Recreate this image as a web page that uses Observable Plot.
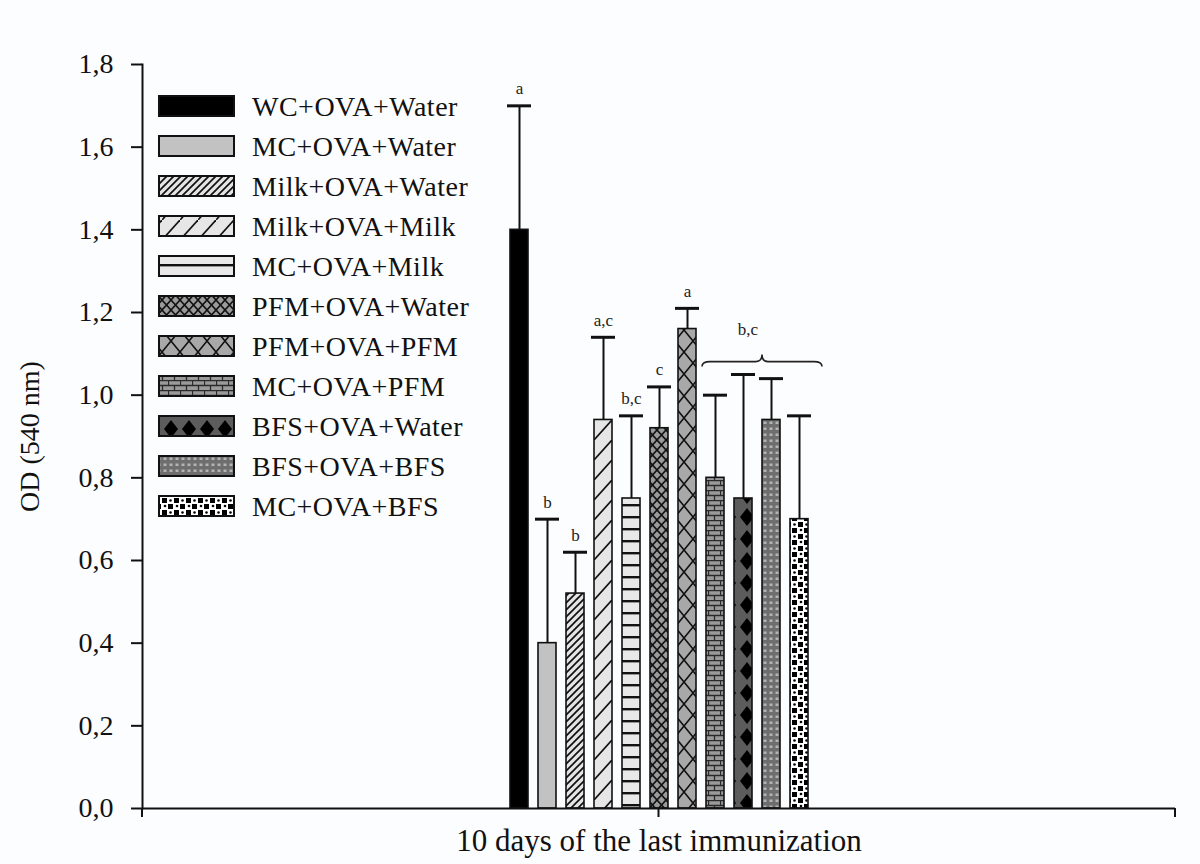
<!DOCTYPE html>
<html><head><meta charset="utf-8">
<script src="https://cdn.jsdelivr.net/npm/d3@7"></script>
<script src="https://cdn.jsdelivr.net/npm/@observablehq/plot@0.6"></script>
<style>
html,body{margin:0;padding:0;background:#fcfdfe;}
#chart svg{font-family:"Liberation Serif","Times New Roman",serif;display:block;}
</style></head><body><div id="chart"></div>
<script>
// ---- data ----
const treatments = ["WC+OVA+Water","MC+OVA+Water","Milk+OVA+Water","Milk+OVA+Milk","MC+OVA+Milk","PFM+OVA+Water","PFM+OVA+PFM","MC+OVA+PFM","BFS+OVA+Water","BFS+OVA+BFS","MC+OVA+BFS"];
const means   = [1.40, 0.40, 0.52, 0.94, 0.75, 0.92, 1.16, 0.80, 0.75, 0.94, 0.70];
const errTops = [1.70, 0.70, 0.62, 1.14, 0.95, 1.02, 1.21, 1.00, 1.05, 1.04, 0.95];
const letters = ["a", "b", "b", "a,c", "b,c", "c", "a", "", "", "", ""];
const groupLetter = "b,c";
const groupMembers = ["MC+OVA+PFM","BFS+OVA+Water","BFS+OVA+BFS","MC+OVA+BFS"];
const yTicks = [0, 0.2, 0.4, 0.6, 0.8, 1.0, 1.2, 1.4, 1.6, 1.8];
const xLabel = "10 days of the last immunization";
const yLabel = "OD (540 nm)";
const fills = ["#000000","#c2c2c2","url(#p3)","url(#p4)","url(#p5)","url(#p6)","url(#p7)","url(#p8)","url(#p9)","url(#p10)","url(#p11)"];

const data = treatments.map((t, i) => ({t, mean: means[i], err: errTops[i], letter: letters[i]}));

// ---- layout ----
const W = 1200, H = 864, mL = 142, mR = 25, mT = 64, mB = 56;
const step = 28.2;
const cx = mL + (W - mL - mR) / 2;
const ink = "#111";

const plot = Plot.plot({
  width: W, height: H,
  marginLeft: mL, marginRight: mR, marginTop: mT, marginBottom: mB,
  style: {background: "transparent", fontFamily: "Liberation Serif, Times New Roman, serif", color: ink, overflow: "visible"},
  x: {type: "band", domain: treatments, range: [cx - step * 11 / 2, cx + step * 11 / 2], paddingInner: 0.36, paddingOuter: 0.18, axis: null},
  y: {domain: [0, 1.8], axis: null},
  color: {domain: treatments, range: fills},
  marks: [
    Plot.ruleX(data, {x: "t", y1: "mean", y2: "err", stroke: ink, strokeWidth: 2}),
    Plot.tickY(data, {x: "t", y: "err", stroke: ink, strokeWidth: 3, insetLeft: -3, insetRight: -3}),
    Plot.barY(data, {x: "t", y: "mean", fill: "t", stroke: ink, strokeWidth: 1.6}),
    Plot.text(data.filter(d => d.letter), {x: "t", y: "err", text: "letter", dy: -17, fontSize: 17, fill: "#222"}),
    Plot.axisY({ticks: yTicks, tickFormat: d => d.toFixed(1).replace(".", ","), tickSize: 11, tickPadding: 18, fontSize: 28, label: null, stroke: ink, strokeWidth: 2}),
    Plot.frame({anchor: "left", stroke: ink, strokeWidth: 2}),
    Plot.ruleY([0], {stroke: ink, strokeWidth: 2}),
    Plot.text([yLabel], {frameAnchor: "left", dx: -112, rotate: -90, textAnchor: "middle", lineAnchor: "middle", fontSize: 28, fill: ink}),
    Plot.text([xLabel], {frameAnchor: "bottom", dy: 33, textAnchor: "middle", lineAnchor: "middle", fontSize: 31, fill: ink})
  ]
});

document.getElementById("chart").appendChild(plot);

// ---- patterns ----
const svg = d3.select(plot);
const defs = svg.insert("defs", ":first-child");
function pat(id, w, h, build) {
  const p = defs.append("pattern").attr("id", id).attr("patternUnits", "userSpaceOnUse").attr("width", w).attr("height", h);
  build(p);
}
pat("p3", 7, 7, p => {
  p.append("rect").attr("width", 7).attr("height", 7).attr("fill", "#e4e4e4");
  p.append("path").attr("d", "M-1,8 L8,-1 M-1,1 L1,-1 M6,8 L8,6").attr("stroke", ink).attr("stroke-width", 1.7);
});
pat("p4", 18, 20, p => {
  p.append("rect").attr("width", 18).attr("height", 20).attr("fill", "#e6e6e6");
  p.append("path").attr("d", "M-1,21.1 L19,-1.1").attr("stroke", ink).attr("stroke-width", 1.7);
});
pat("p5", 10, 12, p => {
  p.append("rect").attr("width", 10).attr("height", 12).attr("fill", "#e8e8e8");
  p.append("rect").attr("y", 0).attr("width", 10).attr("height", 2.4).attr("fill", ink);
});
pat("p6", 9, 10, p => {
  p.append("rect").attr("width", 9).attr("height", 10).attr("fill", "#9a9a9a");
  p.append("path").attr("d", "M0,0 L9,10 M9,0 L0,10").attr("stroke", ink).attr("stroke-width", 1.6);
});
pat("p7", 18, 22, p => {
  p.append("rect").attr("width", 18).attr("height", 22).attr("fill", "#a8a8a8");
  p.append("path").attr("d", "M0,0 L18,22 M18,0 L0,22").attr("stroke", ink).attr("stroke-width", 1.6);
});
pat("p8", 12, 10, p => {
  p.append("rect").attr("width", 12).attr("height", 10).attr("fill", "#9a9a9a");
  p.append("path").attr("d", "M0,0.5 H12 M0,5.5 H12 M0.5,0 V5 M6.5,5 V10").attr("stroke", "#2a2a2a").attr("stroke-width", 1.3);
});
pat("p9", 18, 22, p => {
  p.append("rect").attr("width", 18).attr("height", 22).attr("fill", "#5c5c5c");
  p.append("polygon").attr("points", "9,2 16,11 9,20 2,11").attr("fill", "#000");
});
pat("p10", 6, 6, p => {
  p.append("rect").attr("width", 6).attr("height", 6).attr("fill", "#6e6e6e");
  p.append("rect").attr("x", 1.5).attr("y", 1.5).attr("width", 3).attr("height", 2.5).attr("fill", "#b4b4b4");
});
pat("p11", 12, 12, p => {
  p.append("rect").attr("width", 12).attr("height", 12).attr("fill", "#ffffff");
  p.append("rect").attr("x", 0).attr("y", 0).attr("width", 5).attr("height", 5).attr("fill", "#000");
  p.append("rect").attr("x", 6).attr("y", 6).attr("width", 5).attr("height", 5).attr("fill", "#000");
  p.append("circle").attr("cx", 9).attr("cy", 2).attr("r", 1.3).attr("fill", "#000");
  p.append("circle").attr("cx", 2.5).attr("cy", 8.5).attr("r", 1.3).attr("fill", "#000");
});

// ---- extra axis decorations (ticks on x axis) ----
const xs = plot.scale("x"), ys = plot.scale("y");
const y0 = ys.apply(0);
const deco = svg.append("g").attr("stroke", ink).attr("stroke-width", 2);
deco.append("line").attr("x1", mL).attr("x2", mL).attr("y1", y0).attr("y2", y0 + 9);
deco.append("line").attr("x1", cx).attr("x2", cx).attr("y1", y0).attr("y2", y0 + 9);
deco.append("line").attr("x1", W - mR).attr("x2", W - mR).attr("y1", y0).attr("y2", y0 + 9);

// ---- group brace ----
const bw = xs.bandwidth;
const gx0 = xs.apply(groupMembers[0]) - 4;
const gx1 = xs.apply(groupMembers[groupMembers.length - 1]) + bw + 14;
const gy = ys.apply(1.08);
const gm = (gx0 + gx1) / 2;
svg.append("path")
  .attr("d", `M${gx0},${gy + 5} Q${gx0},${gy} ${gx0 + 8},${gy} L${gm - 6},${gy} Q${gm},${gy} ${gm},${gy - 7} Q${gm},${gy} ${gm + 6},${gy} L${gx1 - 8},${gy} Q${gx1},${gy} ${gx1},${gy + 5}`)
  .attr("fill", "none").attr("stroke", "#222").attr("stroke-width", 1.6);
svg.append("text").attr("x", gm - 14).attr("y", gy - 32).attr("text-anchor", "middle").attr("dominant-baseline", "central")
  .attr("font-size", 17).attr("fill", "#222").text(groupLetter);

// ---- legend ----
const leg = svg.append("g").attr("text-anchor", "start");
treatments.forEach((t, i) => {
  const yy = 106 + i * 40;
  leg.append("rect").attr("x", 159).attr("y", yy - 10).attr("width", 75).attr("height", 20)
    .attr("fill", fills[i]).attr("stroke", ink).attr("stroke-width", 2);
  leg.append("text").attr("x", 252).attr("y", yy).attr("dominant-baseline", "central")
    .attr("text-anchor", "start").attr("letter-spacing", "0.5px")
    .attr("font-size", 28).attr("fill", ink).text(t);
});
</script>
</body></html>
